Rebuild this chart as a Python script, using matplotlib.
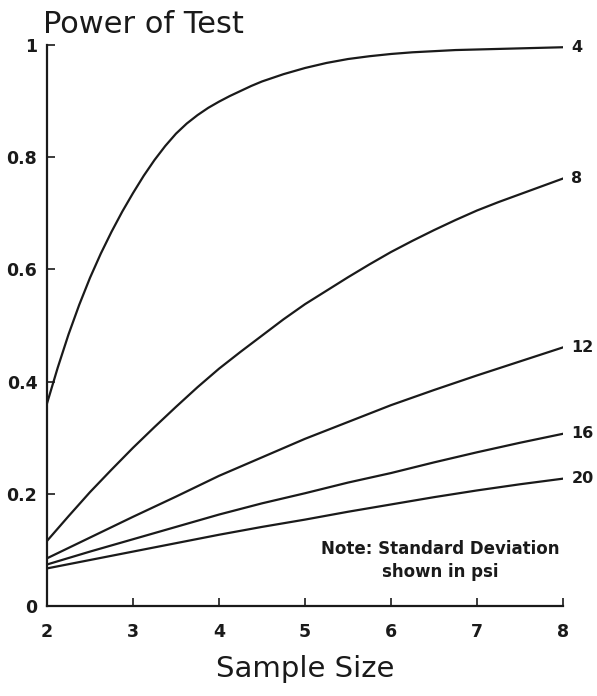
import matplotlib
matplotlib.use("Agg")
import matplotlib.pyplot as plt

# ---- Data ----
sample_sd4 = [2.0, 2.125, 2.25, 2.375, 2.5, 2.625, 2.75, 2.875, 3.0, 3.125, 3.25,
              3.375, 3.5, 3.625, 3.75, 3.875, 4.0, 4.125, 4.25, 4.375, 4.5,
              4.75, 5.0, 5.25, 5.5, 5.75, 6.0, 6.25, 6.5, 6.75, 7.0, 7.25, 7.5,
              7.75, 8.0]
power_sd4 = [0.361, 0.425, 0.484, 0.537, 0.585, 0.628, 0.667, 0.703, 0.736, 0.767,
             0.795, 0.820, 0.842, 0.860, 0.875, 0.888, 0.899, 0.909, 0.918, 0.927,
             0.935, 0.948, 0.959, 0.968, 0.975, 0.980, 0.984, 0.987, 0.989, 0.991,
             0.992, 0.993, 0.994, 0.995, 0.996]

sample_sd8 = [2.0, 2.25, 2.5, 2.75, 3.0, 3.25, 3.5, 3.75, 4.0, 4.25, 4.5, 4.75,
              5.0, 5.25, 5.5, 5.75, 6.0, 6.25, 6.5, 6.75, 7.0, 7.25, 7.5, 7.75, 8.0]
power_sd8 = [0.116, 0.160, 0.203, 0.243, 0.282, 0.319, 0.355, 0.390, 0.423, 0.453,
             0.482, 0.511, 0.538, 0.562, 0.586, 0.609, 0.631, 0.651, 0.670, 0.688,
             0.705, 0.720, 0.734, 0.748, 0.762]

sample_half = [2.0, 2.5, 3.0, 3.5, 4.0, 4.5, 5.0, 5.5, 6.0, 6.5, 7.0, 7.5, 8.0]
power_sd12 = [0.085, 0.122, 0.159, 0.195, 0.232, 0.265, 0.298, 0.328, 0.358,
              0.385, 0.411, 0.436, 0.461]
power_sd16 = [0.074, 0.097, 0.119, 0.141, 0.163, 0.183, 0.201, 0.220, 0.237,
              0.256, 0.274, 0.291, 0.307]
power_sd20 = [0.067, 0.082, 0.097, 0.112, 0.127, 0.141, 0.154, 0.168, 0.181,
              0.194, 0.206, 0.217, 0.227]

sd_labels = ["4", "8", "12", "16", "20"]
x_ticks = [2, 3, 4, 5, 6, 7, 8]
y_ticks = [0, 0.2, 0.4, 0.6, 0.8, 1]
y_tick_labels = ["0", "0.2", "0.4", "0.6", "0.8", "1"]

INK = "#1a1a1a"
plt.rcParams["font.family"] = ["DejaVu Sans"]

fig = plt.figure(figsize=(5.97, 6.96), dpi=100)
ax = fig.add_axes([47 / 597, 1 - 606 / 696, (563 - 47) / 597, (606 - 45) / 696])

series = [
    (sample_sd4, power_sd4),
    (sample_sd8, power_sd8),
    (sample_half, power_sd12),
    (sample_half, power_sd16),
    (sample_half, power_sd20),
]

for (xs, ys), lab in zip(series, sd_labels):
    ax.plot(xs, ys, color=INK, linewidth=1.6, solid_joinstyle="round")
    ax.annotate(lab, xy=(xs[-1], ys[-1]), xytext=(6, 0),
                textcoords="offset points", ha="left", va="center",
                fontsize=11.5, fontweight="bold", color=INK,
                annotation_clip=False)

# ---- Axes styling ----
ax.set_xlim(2, 8)
ax.set_ylim(0, 1)
for side in ("top", "right"):
    ax.spines[side].set_visible(False)
for side in ("left", "bottom"):
    ax.spines[side].set_linewidth(1.6)
    ax.spines[side].set_color(INK)

ax.set_xticks(x_ticks)
ax.set_yticks(y_ticks)
ax.set_yticklabels(y_tick_labels)
ax.tick_params(axis="both", direction="in", length=6, width=1.2, color=INK,
               labelsize=12.5, labelcolor=INK)
ax.tick_params(axis="x", pad=12)
ax.tick_params(axis="y", pad=7)
for t in ax.get_xticklabels() + ax.get_yticklabels():
    t.set_fontweight("bold")

ax.set_xlabel("Sample Size", fontsize=21, color=INK, labelpad=10)

fig.text(43 / 597, 1 - 33 / 696, "Power of Test", fontsize=22,
         ha="left", va="baseline", color=INK)

# note sits below the lowest curve, lower right
ax.text(6.57, 0.117, "Note: Standard Deviation\nshown in psi", ha="center", va="top",
        fontsize=12, fontweight="bold", color=INK, linespacing=1.3)

fig.savefig("out.png", dpi=100)
